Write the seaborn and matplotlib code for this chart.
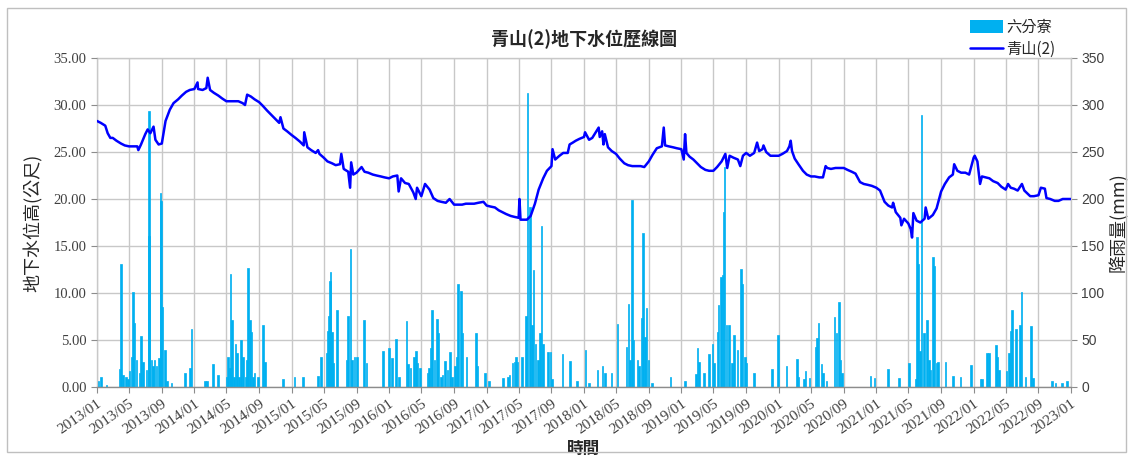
import pandas as pd
import matplotlib
matplotlib.use("Agg")
import matplotlib.pyplot as plt
import matplotlib.dates as mdates
from matplotlib.patches import Patch, Rectangle
from matplotlib.lines import Line2D
import seaborn as sns

# =========================
# Datos
# =========================
titulo = "青山(2)地下水位歷線圖"
serie_nivel = "青山(2)"
serie_lluvia = "六分寮"

nivel_fechas = [
    "2013-01-01", "2013-01-15", "2013-02-01", "2013-02-10", "2013-02-20", "2013-03-01", "2013-03-15",
    "2013-04-01", "2013-04-15", "2013-05-01", "2013-05-15", "2013-06-01", "2013-06-05", "2013-06-15",
    "2013-07-01", "2013-07-10", "2013-07-20", "2013-08-01", "2013-08-08", "2013-08-20", "2013-09-01",
    "2013-09-15", "2013-10-01", "2013-10-15", "2013-11-01", "2013-11-15", "2013-12-01", "2013-12-15",
    "2014-01-01", "2014-01-13", "2014-01-15", "2014-02-01", "2014-02-15", "2014-02-20", "2014-03-01",
    "2014-03-15", "2014-04-01", "2014-04-15", "2014-05-01", "2014-05-15", "2014-06-01", "2014-06-15",
    "2014-07-01", "2014-07-10", "2014-07-18", "2014-08-01", "2014-08-15", "2014-09-01", "2014-09-15",
    "2014-10-01", "2014-10-15", "2014-11-01", "2014-11-15", "2014-11-20", "2014-12-01", "2014-12-15",
    "2015-01-01", "2015-01-15", "2015-02-01", "2015-02-15", "2015-02-17", "2015-03-01", "2015-03-15",
    "2015-04-01", "2015-04-10", "2015-04-15", "2015-05-01", "2015-05-15", "2015-06-01", "2015-06-15",
    "2015-07-01", "2015-07-06", "2015-07-15", "2015-08-01", "2015-08-08", "2015-08-12", "2015-08-20",
    "2015-09-01", "2015-09-20", "2015-10-01", "2015-10-15", "2015-11-01", "2015-11-15", "2015-12-01",
    "2015-12-15", "2016-01-01", "2016-01-15", "2016-02-01", "2016-02-06", "2016-02-15", "2016-03-01",
    "2016-03-15", "2016-04-01", "2016-04-10", "2016-04-15", "2016-05-01", "2016-05-15", "2016-06-01",
    "2016-06-15", "2016-07-01", "2016-07-15", "2016-08-01", "2016-08-15", "2016-09-01", "2016-09-15",
    "2016-10-01", "2016-10-15", "2016-11-01", "2016-11-15", "2016-12-01", "2016-12-20", "2017-01-01",
    "2017-01-15", "2017-02-01", "2017-02-15", "2017-03-01", "2017-03-15", "2017-04-01", "2017-04-15",
    "2017-05-01", "2017-05-04", "2017-05-08", "2017-05-20", "2017-06-01", "2017-06-15", "2017-07-01",
    "2017-07-15", "2017-08-01", "2017-08-15", "2017-09-01", "2017-09-05", "2017-09-15", "2017-10-01",
    "2017-10-15", "2017-11-01", "2017-11-08", "2017-11-20", "2017-12-01", "2017-12-15", "2018-01-01",
    "2018-01-05", "2018-01-20", "2018-02-01", "2018-02-25", "2018-03-01", "2018-03-10", "2018-03-15",
    "2018-03-20", "2018-04-01", "2018-04-15", "2018-05-01", "2018-05-15", "2018-06-01", "2018-06-15",
    "2018-07-01", "2018-07-15", "2018-08-01", "2018-08-15", "2018-09-01", "2018-09-15", "2018-10-01",
    "2018-10-20", "2018-10-27", "2018-11-01", "2018-11-15", "2018-12-01", "2018-12-15", "2019-01-01",
    "2019-01-10", "2019-01-15", "2019-01-20", "2019-02-01", "2019-02-15", "2019-03-01", "2019-03-15",
    "2019-04-01", "2019-04-15", "2019-05-01", "2019-05-15", "2019-06-01", "2019-06-15", "2019-06-22",
    "2019-07-01", "2019-07-15", "2019-08-01", "2019-08-10", "2019-08-20", "2019-09-01", "2019-09-15",
    "2019-10-01", "2019-10-12", "2019-10-20", "2019-11-01", "2019-11-05", "2019-11-15", "2019-12-01",
    "2019-12-15", "2020-01-01", "2020-01-15", "2020-02-01", "2020-02-10", "2020-02-15", "2020-02-20",
    "2020-03-01", "2020-03-15", "2020-04-01", "2020-04-15", "2020-05-01", "2020-05-15", "2020-06-01",
    "2020-06-15", "2020-06-25", "2020-07-01", "2020-07-15", "2020-08-01", "2020-08-15", "2020-09-01",
    "2020-09-15", "2020-10-01", "2020-10-15", "2020-11-01", "2020-11-15", "2020-12-01", "2020-12-15",
    "2021-01-01", "2021-01-15", "2021-02-01", "2021-02-15", "2021-03-01", "2021-03-05", "2021-03-15",
    "2021-04-01", "2021-04-05", "2021-04-15", "2021-05-01", "2021-05-10", "2021-05-15", "2021-05-20",
    "2021-06-01", "2021-06-15", "2021-07-01", "2021-07-05", "2021-07-15", "2021-08-01", "2021-08-15",
    "2021-09-01", "2021-09-15", "2021-10-01", "2021-10-15", "2021-10-20", "2021-11-01", "2021-11-15",
    "2021-12-01", "2021-12-15", "2022-01-01", "2022-01-05", "2022-01-15", "2022-01-25", "2022-02-01",
    "2022-02-15", "2022-03-01", "2022-03-15", "2022-04-01", "2022-04-15", "2022-05-01", "2022-05-10",
    "2022-05-20", "2022-06-01", "2022-06-15", "2022-07-01", "2022-07-10", "2022-08-01", "2022-08-15",
    "2022-09-01", "2022-09-10", "2022-09-25", "2022-10-01", "2022-10-15", "2022-11-01", "2022-11-15",
    "2022-12-01", "2022-12-31",
]
nivel_valores = [
    28.3, 28.1, 27.8, 27.0, 26.5, 26.5, 26.2,
    25.9, 25.7, 25.6, 25.6, 25.6, 25.2, 25.8,
    26.9, 27.4, 27.0, 27.7, 26.3, 25.8, 25.9,
    28.3, 29.5, 30.2, 30.6, 31.0, 31.4, 31.6,
    31.7, 32.4, 31.7, 31.6, 31.8, 32.9, 31.6,
    31.3, 31.0, 30.7, 30.4, 30.4, 30.4, 30.4,
    30.2, 30.0, 31.1, 30.9, 30.6, 30.3, 29.9,
    29.4, 29.0, 28.5, 28.1, 28.7, 27.5, 27.2,
    26.8, 26.5, 26.1, 25.7, 27.1, 25.5, 25.2,
    24.9, 25.2, 24.8, 24.4, 24.0, 23.8, 23.6,
    23.7, 24.8, 23.2, 22.9, 21.2, 23.9, 22.6,
    22.8, 23.4, 22.9, 22.8, 22.6, 22.5, 22.4,
    22.3, 22.2, 22.4, 22.5, 20.8, 22.2, 21.7,
    21.6, 20.7, 20.0, 21.2, 20.3, 21.6, 21.0,
    20.1, 19.8, 19.7, 19.6, 20.0, 19.4, 19.4,
    19.4, 19.5, 19.5, 19.5, 19.6, 19.7, 19.3,
    19.2, 19.1, 18.8, 18.6, 18.4, 18.2, 18.1,
    18.0, 20.0, 17.8, 17.8, 17.8, 18.2, 19.5,
    21.0, 22.2, 23.0, 23.5, 25.3, 24.2, 24.6,
    24.9, 24.9, 25.8, 26.0, 26.2, 26.4, 26.6,
    27.1, 26.3, 26.5, 27.6, 26.6, 27.2, 25.8,
    26.9, 25.5, 25.1, 24.8, 24.3, 23.8, 23.6,
    23.5, 23.5, 23.5, 23.4, 24.0, 24.7, 25.4,
    25.6, 27.6, 25.7, 25.6, 25.5, 25.4, 25.3,
    24.2, 26.9, 24.9, 24.5, 24.2, 23.8, 23.4,
    23.1, 23.0, 23.0, 23.4, 24.0, 24.8, 23.3,
    24.6, 24.4, 24.2, 23.5, 24.6, 24.9, 24.6,
    24.9, 26.0, 25.1, 25.3, 25.7, 25.0, 24.6,
    24.6, 24.6, 24.8, 25.1, 25.6, 26.2, 25.1,
    24.3, 23.7, 23.0, 22.6, 22.4, 22.4, 22.3,
    22.3, 23.5, 23.3, 23.2, 23.3, 23.3, 23.3,
    23.1, 22.9, 22.7, 21.8, 21.6, 21.5, 21.4,
    21.2, 20.9, 19.7, 19.3, 19.1, 19.6, 18.6,
    18.0, 17.2, 17.9, 17.4, 16.8, 15.9, 18.5,
    17.7, 17.5, 17.9, 19.1, 17.9, 18.3, 19.0,
    20.8, 21.6, 22.3, 22.6, 23.7, 23.0, 22.8,
    22.8, 22.6, 24.4, 24.6, 24.0, 21.6, 22.4,
    22.3, 22.2, 21.9, 21.7, 21.3, 21.0, 21.6,
    21.2, 21.1, 20.9, 21.6, 20.9, 20.3, 20.3,
    20.4, 21.2, 21.1, 20.1, 20.0, 19.8, 19.8,
    20.0, 20.0,
]

lluvia_fechas = [
    "2013-01-05", "2013-01-15", "2013-02-05", "2013-03-27", "2013-04-02", "2013-04-09", "2013-04-19",
    "2013-04-27", "2013-05-03", "2013-05-10", "2013-05-16", "2013-05-22", "2013-05-29", "2013-06-10",
    "2013-06-16", "2013-06-23", "2013-07-05", "2013-07-14", "2013-07-16", "2013-07-24", "2013-07-30",
    "2013-08-05", "2013-08-12", "2013-08-22", "2013-08-27", "2013-08-30", "2013-09-03", "2013-09-12",
    "2013-09-21", "2013-10-07", "2013-11-26", "2013-12-15", "2013-12-21", "2014-02-09", "2014-02-18",
    "2014-03-12", "2014-03-31", "2014-05-01", "2014-05-07", "2014-05-14", "2014-05-17", "2014-05-22",
    "2014-05-30", "2014-06-05", "2014-06-10", "2014-06-18", "2014-06-26", "2014-07-03", "2014-07-13",
    "2014-07-18", "2014-07-21", "2014-07-28", "2014-08-03", "2014-08-09", "2014-08-15", "2014-08-28",
    "2014-09-16", "2014-09-22", "2014-11-30", "2015-01-12", "2015-02-13", "2015-04-10", "2015-04-22",
    "2015-05-11", "2015-05-17", "2015-05-21", "2015-05-24", "2015-05-27", "2015-06-01", "2015-06-05",
    "2015-06-20", "2015-07-25", "2015-07-31", "2015-08-09", "2015-08-15", "2015-08-25", "2015-09-03",
    "2015-09-28", "2015-10-08", "2015-12-10", "2016-01-01", "2016-01-13", "2016-01-26", "2016-02-07",
    "2016-03-07", "2016-03-13", "2016-03-22", "2016-04-04", "2016-04-10", "2016-04-16", "2016-04-25",
    "2016-05-24", "2016-05-30", "2016-06-05", "2016-06-11", "2016-06-20", "2016-06-28", "2016-07-03",
    "2016-07-13", "2016-07-19", "2016-07-29", "2016-08-07", "2016-08-17", "2016-08-25", "2016-09-04",
    "2016-09-11", "2016-09-16", "2016-09-26", "2016-10-02", "2016-10-18", "2016-11-21", "2016-11-27",
    "2016-12-26", "2017-01-10", "2017-03-04", "2017-03-21", "2017-03-27", "2017-04-08", "2017-04-15",
    "2017-04-21", "2017-04-27", "2017-05-13", "2017-05-28", "2017-06-03", "2017-06-12", "2017-06-20",
    "2017-06-26", "2017-07-03", "2017-07-12", "2017-07-21", "2017-07-25", "2017-07-31", "2017-08-19",
    "2017-08-28", "2017-09-03", "2017-10-13", "2017-11-10", "2017-12-05", "2018-01-07", "2018-01-20",
    "2018-02-20", "2018-03-11", "2018-03-20", "2018-04-14", "2018-05-06", "2018-06-09", "2018-06-17",
    "2018-06-23", "2018-06-29", "2018-07-05", "2018-07-20", "2018-07-26", "2018-08-04", "2018-08-11",
    "2018-08-18", "2018-08-24", "2018-08-31", "2018-09-12", "2018-11-22", "2019-01-15", "2019-02-24",
    "2019-03-02", "2019-03-09", "2019-03-27", "2019-04-15", "2019-04-28", "2019-05-04", "2019-05-16",
    "2019-05-20", "2019-05-29", "2019-06-04", "2019-06-08", "2019-06-12", "2019-06-20", "2019-06-29",
    "2019-07-09", "2019-07-18", "2019-07-30", "2019-08-12", "2019-08-18", "2019-08-28", "2019-09-03",
    "2019-10-01", "2019-12-07", "2019-12-30", "2020-01-30", "2020-03-10", "2020-03-16", "2020-04-04",
    "2020-04-10", "2020-04-26", "2020-05-18", "2020-05-24", "2020-05-30", "2020-06-09", "2020-06-15",
    "2020-06-28", "2020-07-28", "2020-08-04", "2020-08-13", "2020-08-19", "2020-08-26", "2020-12-10",
    "2020-12-25", "2021-02-13", "2021-03-26", "2021-05-03", "2021-05-30", "2021-06-03", "2021-06-07",
    "2021-06-13", "2021-06-20", "2021-06-28", "2021-07-10", "2021-07-17", "2021-07-23", "2021-08-02",
    "2021-08-07", "2021-08-14", "2021-08-21", "2021-09-17", "2021-10-15", "2021-11-12", "2021-12-22",
    "2022-01-26", "2022-02-02", "2022-02-20", "2022-02-27", "2022-03-25", "2022-03-30", "2022-04-05",
    "2022-05-04", "2022-05-13", "2022-05-19", "2022-05-25", "2022-06-09", "2022-06-23", "2022-06-29",
    "2022-07-14", "2022-08-04", "2022-08-12", "2022-10-22", "2022-11-04", "2022-11-29", "2022-12-17",
]
lluvia_mm = [
    6, 11, 2, 19, 131, 13, 11,
    8, 17, 32, 101, 68, 29, 15,
    54, 27, 18, 294, 161, 29, 22,
    29, 22, 31, 206, 198, 85, 39,
    6, 4, 15, 20, 62, 6, 6,
    24, 13, 11, 32, 20, 120, 71,
    11, 46, 36, 11, 50, 32, 11,
    29, 127, 71, 59, 11, 15, 11,
    66, 27, 8, 11, 11, 12, 32,
    36, 60, 75, 113, 122, 59, 25,
    82, 29, 75, 147, 29, 32, 32,
    71, 25, 38, 41, 31, 51, 11,
    70, 24, 20, 32, 38, 25, 20,
    15, 20, 41, 82, 29, 72, 57,
    11, 13, 28, 18, 37, 11, 22,
    32, 110, 102, 57, 32, 57, 22,
    15, 6, 10, 11, 13, 25, 27,
    32, 27, 32, 75, 313, 192, 66,
    124, 46, 29, 57, 171, 46, 37,
    37, 8, 35, 28, 6, 39, 4,
    18, 22, 15, 15, 67, 43, 88,
    29, 199, 50, 29, 22, 73, 164,
    53, 84, 29, 4, 11, 6, 14,
    42, 27, 15, 35, 46, 25, 58,
    87, 117, 119, 186, 234, 66, 66,
    25, 55, 39, 126, 110, 32, 25,
    15, 19, 55, 22, 30, 11, 8,
    17, 10, 43, 52, 68, 24, 15,
    6, 74, 57, 90, 29, 15, 12,
    10, 19, 10, 25, 8, 160, 131,
    38, 289, 57, 71, 29, 18, 138,
    129, 25, 27, 27, 12, 11, 23,
    8, 8, 36, 36, 45, 32, 18,
    17, 36, 60, 82, 62, 66, 101,
    11, 65, 10, 6, 4, 4, 6,
]

df_nivel = pd.DataFrame({"fecha": pd.to_datetime(nivel_fechas), "nivel": nivel_valores})
df_lluvia = pd.DataFrame({"fecha": pd.to_datetime(lluvia_fechas), "lluvia": lluvia_mm})

# =========================
# Estilo
# =========================
sns.set_style("white")
plt.rcParams["font.family"] = ["Noto Sans CJK TC", "DejaVu Sans"]

color_grid = "#C8C8C8"
color_texto = "#404040"
color_lluvia = "#00B0F0"
color_nivel = "#0000FF"

fig = plt.figure(figsize=(11.33, 4.59), dpi=100)
ax = fig.add_axes([97 / 1133, 1 - 387 / 459, (1071 - 97) / 1133, (387 - 58) / 459])
ax2 = ax.twinx()

# lluvia (eje derecho, detrás)
ax2.bar(df_lluvia["fecha"], df_lluvia["lluvia"], width=6, color=color_lluvia,
        edgecolor=color_lluvia, linewidth=0.5, zorder=2)
ax2.set_ylim(0, 350)
ax2.set_yticks(range(0, 351, 50))

# nivel (eje izquierdo, delante)
sns.lineplot(data=df_nivel, x="fecha", y="nivel", ax=ax, color=color_nivel, linewidth=1.8, sort=False)
ax.set_ylim(0, 35)
ax.set_yticks(range(0, 36, 5))
ax.set_yticklabels([f"{v:.2f}" for v in range(0, 36, 5)])
ax.set_xlim(pd.Timestamp("2013-01-01"), pd.Timestamp("2023-01-01"))
ax.xaxis.set_major_locator(mdates.MonthLocator(bymonth=[1, 5, 9]))
ax.xaxis.set_major_formatter(mdates.DateFormatter("%Y/%m"))

ax.set_zorder(ax2.get_zorder() + 1)
ax.patch.set_visible(False)

# grilla en el eje de atrás
ax2.xaxis.set_visible(True)
ax2.tick_params(axis="x", bottom=False, top=False, labelbottom=False, labeltop=False)
ax2.grid(True, axis="both", color=color_grid, linewidth=1.0, zorder=0)
ax2.set_axisbelow(True)
ax.grid(False)

for sp in ax.spines.values():
    sp.set_visible(False)
for nombre, sp in ax2.spines.items():
    sp.set_color(color_grid)
    sp.set_linewidth(1.0)
ax2.spines["bottom"].set_color("#8C8C8C")

ax.tick_params(axis="y", direction="out", length=4, color="#8C8C8C", labelsize=10.5,
               labelcolor=color_texto, left=True)
ax.tick_params(axis="x", direction="out", length=4, color="#8C8C8C", labelsize=11,
               labelcolor=color_texto, bottom=True)
ax2.tick_params(axis="y", direction="out", length=4, color="#8C8C8C", labelsize=10,
                labelcolor=color_texto, right=True)
for t in ax.get_yticklabels() + ax.get_xticklabels():
    t.set_fontfamily("Liberation Serif")
for t in ax2.get_yticklabels():
    t.set_fontfamily("Liberation Sans")
plt.setp(ax.get_xticklabels(), rotation=35, ha="right", rotation_mode="anchor")

ax.set_xlabel("時間", fontsize=12, fontweight="bold", color="#262626", labelpad=2)
ax.set_ylabel("地下水位高(公尺)", fontsize=13, color="#262626", labelpad=8)
ax2.set_ylabel("降雨量(mm)", fontsize=13, color="#262626", labelpad=3)
ax.set_title(titulo, fontsize=13, fontweight="bold", color="#262626", pad=9)

handles = [Patch(facecolor=color_lluvia, edgecolor="none", label=serie_lluvia),
           Line2D([0], [0], color=color_nivel, linewidth=1.8, label=serie_nivel)]
fig.legend(handles=handles, loc="upper right", bbox_to_anchor=(1066 / 1133, 1 - 8 / 459),
           frameon=False, fontsize=11, handlelength=2.2, handleheight=0.9,
           handletextpad=0.2, labelspacing=0.35, borderpad=0.2)

# marco exterior
fig.patches.append(Rectangle((7 / 1133, 1 - 452 / 459), 1119 / 1133, 444 / 459,
                             transform=fig.transFigure, fill=False,
                             edgecolor="#BFBFBF", linewidth=1.0))

fig.savefig("out.png", dpi=100)
